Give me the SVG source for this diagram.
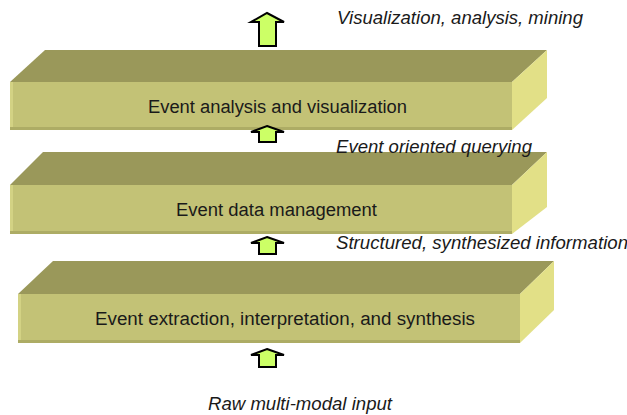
<svg xmlns="http://www.w3.org/2000/svg" width="627" height="415" viewBox="0 0 627 415">
<style>
.top{fill:#9a985a}
.front{fill:#c3c276}
.side{fill:#e2e087}
.hl{fill:#d3d284}
.sh{fill:#adac65}
.lbl{font-family:"Liberation Sans",Arial,sans-serif;font-size:18px;fill:#1a1a1a}
.note{font-family:"Liberation Sans",Arial,sans-serif;font-size:18.5px;font-style:italic;fill:#1a1a1a}
.arr{fill:#ccff66;stroke:#000;stroke-width:2;stroke-linejoin:miter}
</style>
<rect width="627" height="415" fill="#fff"/>
<g id="layer-analysis">
<polygon class="top" points="10,82 45,50 547,50 512,82"/>
<polygon class="side" points="512,82 547,50 547,98 512,130"/>
<rect class="front" x="10" y="82" width="502" height="48"/>
<rect class="hl" x="10" y="82" width="3" height="48"/>
<rect class="sh" x="10" y="127" width="502" height="3"/>
<text class="lbl" x="148" y="113" textLength="259" lengthAdjust="spacingAndGlyphs">Event analysis and visualization</text>
</g>
<g id="layer-management">
<polygon class="top" points="10,185 43,152 547,152 512,185"/>
<polygon class="side" points="512,185 547,152 547,207 512,234"/>
<rect class="front" x="10" y="185" width="502" height="49"/>
<rect class="hl" x="10" y="185" width="3" height="49"/>
<rect class="sh" x="10" y="231" width="502" height="3"/>
<text class="lbl" x="176" y="216" textLength="201" lengthAdjust="spacingAndGlyphs">Event data management</text>
</g>
<g id="layer-extraction">
<polygon class="top" points="18,294 53,261 554,261 520,294"/>
<polygon class="side" points="520,294 554,261 554,310 520,343"/>
<rect class="front" x="18" y="294" width="502" height="49"/>
<rect class="hl" x="18" y="294" width="3" height="49"/>
<rect class="sh" x="18" y="340" width="502" height="3"/>
<text class="lbl" x="95" y="325" textLength="380" lengthAdjust="spacingAndGlyphs">Event extraction, interpretation, and synthesis</text>
</g>
<g id="connectors">
<path class="arr" d="M267,13 L284,22 L276,22 L276,46 L259,46 L259,22 L251,22 Z"/>
<path class="arr" d="M267,126 L284,132 L276,132 L276,142 L259,142 L259,132 L251,132 Z"/>
<path class="arr" d="M267,237 L284,243 L276,243 L276,254 L259,254 L259,243 L251,243 Z"/>
<path class="arr" d="M267,349 L284,355 L276,355 L276,367 L259,367 L259,355 L251,355 Z"/>
</g>
<g id="labels">
<text class="note" x="337" y="24" textLength="246" lengthAdjust="spacingAndGlyphs">Visualization, analysis, mining</text>
<text class="note" x="336" y="153" textLength="196" lengthAdjust="spacingAndGlyphs">Event oriented querying</text>
<text class="note" x="336" y="249" textLength="292" lengthAdjust="spacingAndGlyphs">Structured, synthesized information</text>
<text class="note" x="208" y="410" textLength="184" lengthAdjust="spacingAndGlyphs">Raw multi-modal input</text>
</g>
</svg>
